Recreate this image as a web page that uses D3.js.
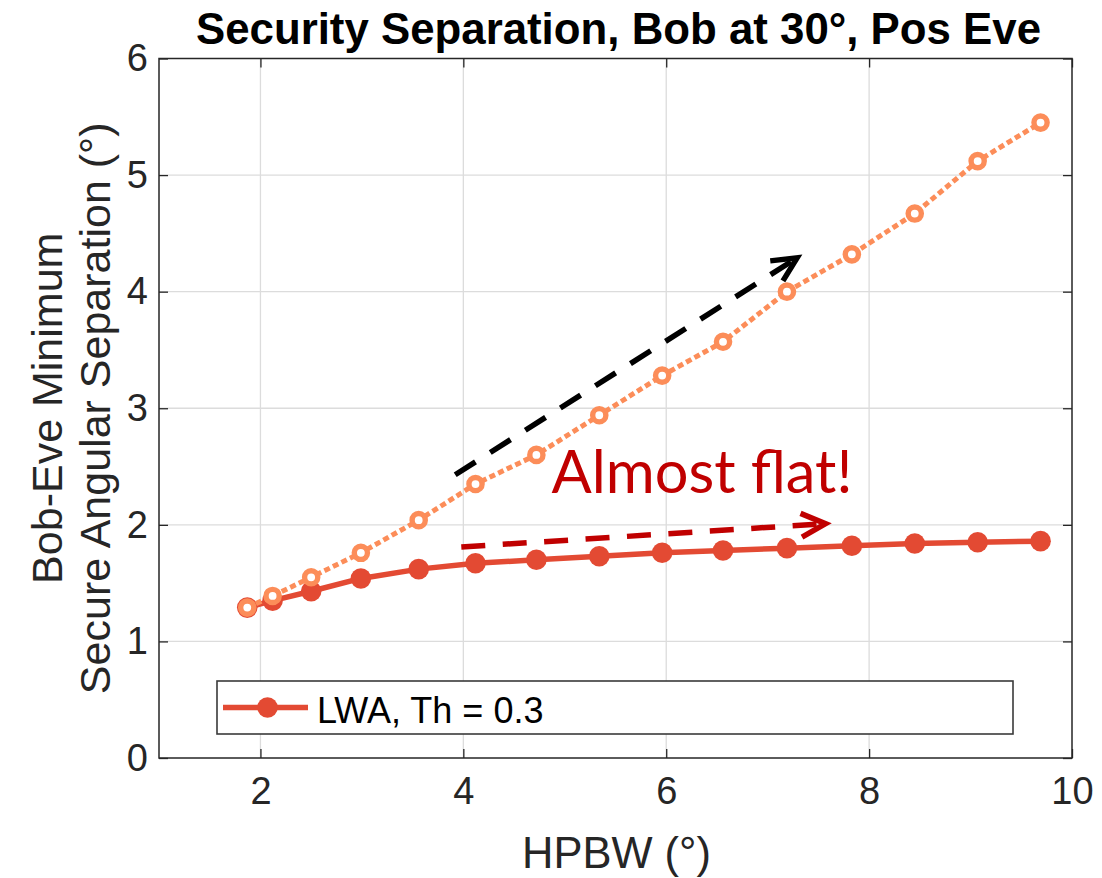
<!DOCTYPE html>
<html>
<head>
<meta charset="utf-8">
<script src="https://cdn.jsdelivr.net/npm/d3@7"></script>
<style>
  body { margin: 0; background: #ffffff; }
  svg { display: block; }
</style>
</head>
<body>
<svg id="chart" width="1102" height="878"></svg>
<script>
// Half-power beamwidth (deg) for each simulated beam
const hpbw = [1.87, 2.12, 2.50, 2.99, 3.56, 4.12, 4.72, 5.34, 5.96, 6.56, 7.19, 7.83, 8.45, 9.07, 9.69];
// Minimum secure Bob-Eve separation (deg), LWA with threshold 0.3
const lwaTh03 = [1.29, 1.35, 1.43, 1.54, 1.62, 1.67, 1.70, 1.73, 1.76, 1.78, 1.80, 1.82, 1.84, 1.85, 1.86];
// Minimum secure separation (deg) of the comparison beam (dotted curve)
const comparison = [1.29, 1.39, 1.55, 1.76, 2.04, 2.35, 2.60, 2.94, 3.28, 3.57, 4.00, 4.32, 4.67, 5.12, 5.45];

const xTicks = [2, 4, 6, 8, 10];
const yTicks = [0, 1, 2, 3, 4, 5, 6];
const legendLabels = ["LWA, Th = 0.3"];

// Annotation arrows, endpoints in data units [HPBW, separation]
const steepArrow = [[3.92, 2.43], [7.29, 4.29]];
const flatArrow = [[3.98, 1.81], [7.57, 2.01]];
const flatNote = { text: "Almost flat!", at: [4.87, 2.27] };

const plot = { left: 159, right: 1072, top: 58.5, bottom: 758 };

const svg = d3.select("#chart");
const x = d3.scaleLinear().domain([1, 10]).range([plot.left, plot.right]);
const y = d3.scaleLinear().domain([0, 6]).range([plot.bottom, plot.top]);

const FONT = "'Liberation Sans', Arial, Helvetica, sans-serif";
const AXIS_COLOR = "#262626";
const RED = "#e34a33";
const ORANGE = "#fc8d59";

// background of the axes
svg.append("rect")
  .attr("x", plot.left).attr("y", plot.top)
  .attr("width", plot.right - plot.left).attr("height", plot.bottom - plot.top)
  .attr("fill", "#ffffff");

// grid
const grid = svg.append("g").attr("stroke", "#dcdcdc").attr("stroke-width", 1.3);
grid.selectAll("line.gx").data(xTicks.filter(t => t > 1 && t < 10)).join("line")
  .attr("x1", d => x(d)).attr("x2", d => x(d))
  .attr("y1", plot.top).attr("y2", plot.bottom);
grid.selectAll("line.gy").data(yTicks.filter(t => t > 0 && t < 6)).join("line")
  .attr("y1", d => y(d)).attr("y2", d => y(d))
  .attr("x1", plot.left).attr("x2", plot.right);

// axes with inward ticks on all four sides
function styleAxis(g) {
  g.select(".domain").remove();
  g.selectAll(".tick line").attr("stroke", AXIS_COLOR).attr("stroke-width", 1.3);
  g.selectAll(".tick text")
    .attr("fill", AXIS_COLOR)
    .attr("font-family", FONT)
    .attr("font-size", 38);
}

svg.append("g")
  .attr("transform", `translate(0,${plot.bottom})`)
  .call(d3.axisBottom(x).tickValues(xTicks).tickSize(-9).tickPadding(19).tickFormat(d3.format("d")))
  .call(styleAxis);
svg.append("g")
  .attr("transform", `translate(0,${plot.top})`)
  .call(d3.axisTop(x).tickValues(xTicks).tickSize(-9).tickFormat(""))
  .call(styleAxis);
svg.append("g")
  .attr("transform", `translate(${plot.left},0)`)
  .call(d3.axisLeft(y).tickValues(yTicks).tickSize(-9).tickPadding(11).tickFormat(d3.format("d")))
  .call(styleAxis);
svg.append("g")
  .attr("transform", `translate(${plot.right},0)`)
  .call(d3.axisRight(y).tickValues(yTicks).tickSize(-9).tickFormat(""))
  .call(styleAxis);

// axes box
svg.append("rect")
  .attr("x", plot.left).attr("y", plot.top)
  .attr("width", plot.right - plot.left).attr("height", plot.bottom - plot.top)
  .attr("fill", "none").attr("stroke", AXIS_COLOR).attr("stroke-width", 1.5);

// series
const line = d3.line().x(d => x(d[0])).y(d => y(d[1]));
const lwaPts = hpbw.map((h, i) => [h, lwaTh03[i]]);
const cmpPts = hpbw.map((h, i) => [h, comparison[i]]);

svg.append("path").datum(lwaPts)
  .attr("d", line).attr("fill", "none")
  .attr("stroke", RED).attr("stroke-width", 5.5).attr("stroke-linejoin", "round");
svg.append("g").selectAll("circle").data(lwaPts).join("circle")
  .attr("cx", d => x(d[0])).attr("cy", d => y(d[1])).attr("r", 10.3)
  .attr("fill", RED);

svg.append("path").datum(cmpPts)
  .attr("d", line).attr("fill", "none")
  .attr("stroke", ORANGE).attr("stroke-width", 5)
  .attr("stroke-dasharray", "6,3.5");
svg.append("g").selectAll("circle").data(cmpPts).join("circle")
  .attr("cx", d => x(d[0])).attr("cy", d => y(d[1])).attr("r", 6.6)
  .attr("fill", "#ffffff").attr("stroke", ORANGE).attr("stroke-width", 5.4);

// legend
const legend = svg.append("g");
legend.append("rect")
  .attr("x", 217).attr("y", 681).attr("width", 796).attr("height", 53)
  .attr("fill", "#ffffff").attr("stroke", "#3a3a3a").attr("stroke-width", 1.6);
legendLabels.forEach((lab, i) => {
  const cy = 707.5 + i * 50;
  legend.append("line")
    .attr("x1", 223).attr("x2", 308).attr("y1", cy).attr("y2", cy)
    .attr("stroke", RED).attr("stroke-width", 5.5);
  legend.append("circle").attr("cx", 267.5).attr("cy", cy).attr("r", 10.3).attr("fill", RED);
  legend.append("text")
    .attr("x", 317).attr("y", cy + 15.5)
    .attr("font-family", FONT).attr("font-size", 36).attr("fill", "#000000")
    .text(lab);
});

// title and axis labels
svg.append("text")
  .attr("x", (plot.left + plot.right) / 2 + 3).attr("y", 44)
  .attr("text-anchor", "middle")
  .attr("font-family", FONT).attr("font-weight", "bold").attr("font-size", 43.8)
  .attr("fill", "#000000")
  .text("Security Separation, Bob at 30°, Pos Eve");

svg.append("text")
  .attr("x", (plot.left + plot.right) / 2 + 1).attr("y", 868)
  .attr("text-anchor", "middle")
  .attr("font-family", FONT).attr("font-size", 43.5)
  .attr("fill", AXIS_COLOR)
  .text("HPBW (°)");

const yLab = svg.append("text")
  .attr("transform", `translate(0,${(plot.top + plot.bottom) / 2}) rotate(-90)`)
  .attr("text-anchor", "middle")
  .attr("font-family", FONT).attr("font-size", 43)
  .attr("fill", AXIS_COLOR);
yLab.append("tspan").attr("x", 0).attr("y", 62).text("Bob-Eve Minimum");
yLab.append("tspan").attr("x", 0).attr("y", 110).text("Secure Angular Separation (°)");

// dashed annotation arrows with open chevron heads
function arrow(pts, color) {
  const [p0, p1] = pts.map(p => [x(p[0]), y(p[1])]);
  const dx = p1[0] - p0[0], dy = p1[1] - p0[1];
  const len = Math.hypot(dx, dy);
  const ux = dx / len, uy = dy / len;
  const g = svg.append("g").attr("fill", "none").attr("stroke", color).attr("stroke-width", 5.5);
  g.append("line")
    .attr("x1", p0[0]).attr("y1", p0[1])
    .attr("x2", p1[0] - ux * 4).attr("y2", p1[1] - uy * 4)
    .attr("stroke-dasharray", "24,17.5");
  const a = 26 * Math.PI / 180, L = 27;
  const arm = s => {
    const c = Math.cos(s * a), sn = Math.sin(s * a);
    const bx = -ux, by = -uy;
    return [p1[0] + L * (bx * c - by * sn), p1[1] + L * (bx * sn + by * c)];
  };
  const A = arm(1), B = arm(-1);
  g.append("path")
    .attr("d", `M${A[0]},${A[1]}L${p1[0]},${p1[1]}L${B[0]},${B[1]}`)
    .attr("stroke-linejoin", "miter");
}
arrow(steepArrow, "#000000");
arrow(flatArrow, "#c00000");

svg.append("text")
  .attr("x", x(flatNote.at[0])).attr("y", y(flatNote.at[1]))
  .attr("font-family", "Lato, 'Open Sans', sans-serif").attr("font-size", 59.5)
  .attr("fill", "#c00000")
  .text(flatNote.text);
</script>
</body>
</html>
